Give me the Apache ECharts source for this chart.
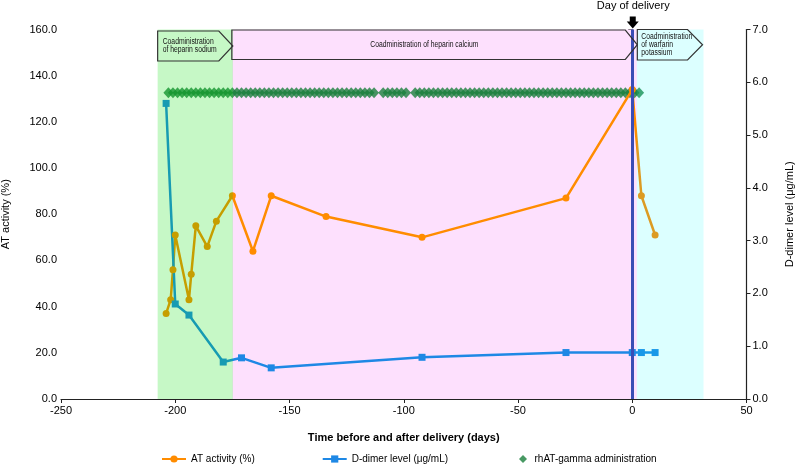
<!DOCTYPE html>
<html>
<head>
<meta charset="utf-8">
<script src="https://cdn.jsdelivr.net/npm/echarts@6/dist/echarts.min.js"></script>
<style>
  html, body { margin: 0; padding: 0; background: #fff; }
  #chart { width: 798px; height: 473px; }
</style>
</head>
<body>
<div id="chart"></div>
<script>
  // AT activity (%)
  var atDays = [-204, -202, -201, -200, -194, -193, -191, -186, -182, -175, -166, -158, -134, -92, -29, 0, 4, 10]
  var atValues = [37, 43, 56, 71, 43, 54, 75, 66, 77, 88, 64, 88, 79, 70, 87, 134, 88, 71]

  // D-dimer level (µg/mL)
  var ddDays = [-204, -200, -194, -179, -171, -158, -92, -29, 0, 4, 10]
  var ddValues = [5.6, 1.8, 1.59, 0.7, 0.78, 0.59, 0.79, 0.88, 0.88, 0.88, 0.88]

  // rhAT-gamma administration days (drawn at a fixed level on the right axis)
  var rhatDays = [-203, -201, -199, -197, -195, -193, -191, -189, -187, -185, -183, -181, -179, -177, -175,
    -173, -171, -169, -167, -165, -163, -161, -159, -157, -155, -153, -151, -149, -147, -145, -143, -141,
    -139, -137, -135, -133, -131, -129, -127, -125, -123, -121, -119, -117, -115, -113, -109, -107, -105,
    -103, -101, -99, -95, -93, -91, -89, -87, -85, -83, -81, -79, -77, -75, -73, -71, -69, -67, -65, -63,
    -61, -59, -57, -55, -53, -51, -49, -47, -45, -43, -41, -39, -37, -35, -33, -31, -29, -27, -25, -23,
    -21, -19, -17, -15, -13, -11, -9, -7, -5, -3, -1, 1, 3]
  var rhatLevel = 5.8

  // treatment periods (days)
  var sodiumPeriod = [-207.7, -174.8]
  var calciumPeriod = [-175, 2]
  var warfarinPeriod = [2, 31.2]
  var deliveryDay = 0

  var FONT = 'Liberation Sans, Arial, sans-serif'

  function zip(xs, ys) {
    return xs.map(function (x, i) { return [x, ys[i]] })
  }

  var chart = echarts.init(document.getElementById('chart'))

  var legendText = { fontSize: 10, color: '#000', fontFamily: FONT }

  chart.setOption({
    animation: false,
    textStyle: { fontFamily: FONT },
    grid: { left: 61, right: 51.5, top: 29.5, bottom: 74, outerBoundsMode: 'none', containLabel: false },
    legend: [
      {
        data: ['AT activity (%)', 'D-dimer level (μg/mL)'],
        bottom: 4,
        left: 156,
        itemGap: 67,
        itemWidth: 24,
        itemHeight: 9,
        textStyle: legendText
      },
      {
        data: [{ name: 'rhAT-gamma administration', icon: 'path://M5,0L10,5L5,10L0,5Z' }],
        bottom: 4,
        left: 514,
        itemWidth: 13,
        itemHeight: 8,
        textStyle: legendText
      }
    ],
    xAxis: {
      type: 'value',
      min: -250,
      max: 50,
      interval: 50,
      name: 'Time before and after delivery (days)',
      nameLocation: 'middle',
      nameGap: 33,
      nameTextStyle: { fontSize: 11, color: '#000', fontWeight: 'bold' },
      axisLine: { onZero: false, lineStyle: { color: '#222', width: 1.2 } },
      axisTick: { lineStyle: { color: '#222' }, length: 4 },
      axisLabel: { fontSize: 11, color: '#000', margin: 6 },
      splitLine: { show: false }
    },
    yAxis: [
      {
        type: 'value',
        min: 0,
        max: 160,
        interval: 20,
        name: 'AT activity (%)',
        nameLocation: 'middle',
        nameGap: 50,
        nameTextStyle: { fontSize: 11, color: '#000' },
        axisLine: { show: true, lineStyle: { color: '#222', width: 1.2 } },
        axisTick: { show: true, lineStyle: { color: '#222' }, length: 4 },
        axisLabel: { fontSize: 11, color: '#000', margin: 4, formatter: function (v) { return v.toFixed(1) } },
        splitLine: { show: false }
      },
      {
        type: 'value',
        min: 0,
        max: 7,
        interval: 1,
        name: 'D-dimer level (μg/mL)',
        nameLocation: 'middle',
        nameGap: 38,
        nameRotate: 90,
        nameTextStyle: { fontSize: 11, color: '#000' },
        axisLine: { show: true, lineStyle: { color: '#222', width: 1.2 } },
        axisTick: { show: true, lineStyle: { color: '#222' }, length: 4 },
        axisLabel: { fontSize: 11, color: '#000', margin: 6, formatter: function (v) { return v.toFixed(1) } },
        splitLine: { show: false }
      }
    ],
    series: [
      {
        // pink background of the heparin calcium period (under the lines)
        name: 'calciumBg',
        type: 'line',
        data: [],
        z: 1,
        markArea: {
          silent: true,
          z: 1,
          itemStyle: { color: '#FDE0FD' },
          data: [[{ xAxis: calciumPeriod[0] }, { xAxis: calciumPeriod[1] }]]
        }
      },
      {
        name: 'rhAT-gamma administration',
        type: 'scatter',
        yAxisIndex: 1,
        data: rhatDays.map(function (d) { return [d, rhatLevel] }),
        symbol: 'diamond',
        symbolSize: [10, 11],
        itemStyle: { color: '#1A7F3C' },
        z: 2
      },
      {
        name: 'AT activity (%)',
        type: 'line',
        data: zip(atDays, atValues),
        symbol: 'circle',
        symbolSize: 7,
        lineStyle: { color: '#FF8C00', width: 2.5 },
        itemStyle: { color: '#FF8C00' },
        z: 3
      },
      {
        name: 'D-dimer level (μg/mL)',
        type: 'line',
        yAxisIndex: 1,
        data: zip(ddDays, ddValues),
        symbol: 'rect',
        symbolSize: 7,
        lineStyle: { color: '#1E88E5', width: 2.5 },
        itemStyle: { color: '#1E88E5' },
        z: 3
      },
      {
        // translucent shading laid over the lines, as in the original
        name: 'overlay',
        type: 'line',
        data: [],
        z: 10,
        markArea: {
          silent: true,
          z: 10,
          data: [
            [{ xAxis: sodiumPeriod[0], itemStyle: { color: 'rgba(0,223,0,0.224)' } }, { xAxis: sodiumPeriod[1] }],
            [{ xAxis: warfarinPeriod[0], itemStyle: { color: 'rgba(0,255,255,0.137)' } }, { xAxis: warfarinPeriod[1] }]
          ]
        },
        markLine: {
          silent: true,
          z: 11,
          symbol: 'none',
          label: { show: false },
          lineStyle: { color: '#3A4DB5', width: 3, type: 'solid', opacity: 1 },
          data: [{ xAxis: deliveryDay }]
        }
      }
    ]
  })

  // annotation boxes, placed from the axis scales
  function px(day) {
    return chart.convertToPixel({ xAxisIndex: 0, yAxisIndex: 0 }, [day, 0])[0]
  }

  function arrowBox(x0, x1, top, bottom, notch) {
    var mid = (top + bottom) / 2
    return {
      type: 'polygon',
      z: 100,
      shape: { points: [[x0, top], [x1 - notch, top], [x1, mid], [x1 - notch, bottom], [x0, bottom]] },
      style: { fill: 'none', stroke: '#333', lineWidth: 1.2 }
    }
  }

  // narrow label text: regular font squeezed horizontally
  function label(x, y, text, align) {
    return {
      type: 'text', z: 101, x: x, y: y, scaleX: 0.8,
      style: { text: text, font: '8.5px ' + FONT, fill: '#111', lineHeight: 8, align: align || 'left', verticalAlign: 'top' }
    }
  }

  var dx = px(deliveryDay)
  var b1 = [px(sodiumPeriod[0]), px(sodiumPeriod[1])]
  var b2 = [px(sodiumPeriod[1]) - 1, px(warfarinPeriod[0]) + 0.5]
  var b3 = [px(warfarinPeriod[0]) + 0.5, px(warfarinPeriod[1]) - 1]

  chart.setOption({
    graphic: [
      arrowBox(b1[0], b1[1], 31, 61, 14),
      arrowBox(b2[0], b2[1], 30, 59.5, 12),
      arrowBox(b3[0], b3[1], 29.5, 60, 15),
      label(b1[0] + 5, 37.5, 'Coadministration\nof heparin sodium'),
      label(px(-91), 40.5, 'Coadministration of heparin calcium', 'center'),
      label(b3[0] + 4, 33, 'Coadministration\nof warfarin\npotassium'),
      {
        type: 'text', z: 101, x: dx + 1, y: 6,
        style: { text: 'Day of delivery', font: '11px ' + FONT, fill: '#000', align: 'center', verticalAlign: 'middle' }
      },
      {
        type: 'polygon', z: 101,
        shape: { points: [[dx - 2.5, 16.5], [dx + 3.5, 16.5], [dx + 3.5, 21.5], [dx + 6.5, 21.5], [dx + 0.5, 28.5], [dx - 5.5, 21.5], [dx - 2.5, 21.5]] },
        style: { fill: '#000' }
      }
    ]
  })
</script>
</body>
</html>
